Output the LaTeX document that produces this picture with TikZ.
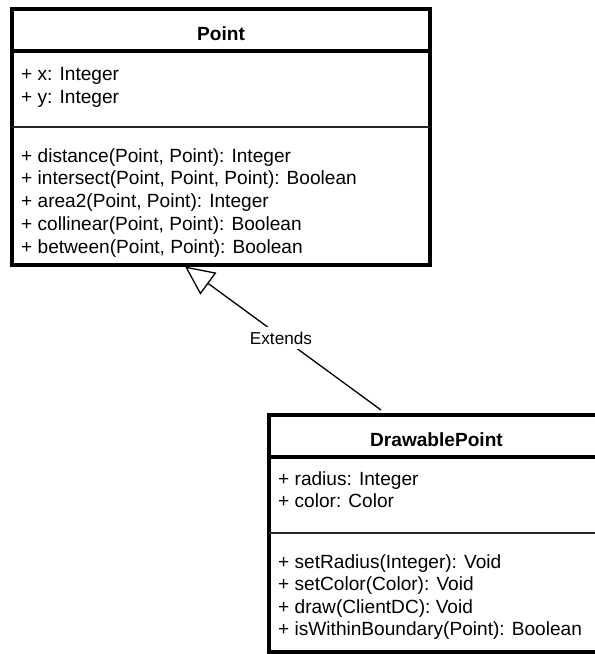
\documentclass[tikz,border=0pt]{standalone}
\usepackage{fontspec}
\setmainfont{Liberation Sans}
\usetikzlibrary{arrows.meta}
\begin{document}
\begin{tikzpicture}[x=1pt,y=-1pt,
  classbox/.style={draw=black, line width=4pt, fill=white, inner sep=0pt, outer sep=0pt},
  headrule/.style={draw=black, line width=4pt},
  partrule/.style={draw=black!85, line width=1.4pt},
  classname/.style={anchor=base, inner sep=0pt, font=\fontsize{19.1}{22.8}\selectfont\bfseries},
  member/.style={anchor=base west, inner sep=0pt, font=\fontsize{19.1}{22.8}\selectfont},
  genlabel/.style={fill=white, inner xsep=2pt, inner ysep=5pt, font=\fontsize{17.2}{20}\selectfont},
  generalization/.style={draw=black, line width=1.3pt,
    -{Triangle[open, length=29pt, width=27pt, fill=white]}}]
  \useasboundingbox (0,0) rectangle (595,654);
  \clip (0,0) rectangle (595,654);

  % class Point
  \node[classbox, minimum width=418pt, minimum height=256pt] (point) at (221,137) {};
  \draw[headrule] (12,50.5) -- (430,50.5);
  \draw[partrule] (12,127) -- (430,127);
  \node[classname] (point-name) at (221,40) {Point};
  \node[member] (point-a1) at (21,80) {+ x: Integer};
  \node[member] (point-a2) at (21,103) {+ y: Integer};
  \node[member] (point-m1) at (21,162) {+ distance(Point, Point): Integer};
  \node[member] (point-m2) at (21,184.8) {+ intersect(Point, Point, Point): Boolean};
  \node[member] (point-m3) at (21,207.6) {+ area2(Point, Point): Integer};
  \node[member] (point-m4) at (21,230.4) {+ collinear(Point, Point): Boolean};
  \node[member] (point-m5) at (21,253.2) {+ between(Point, Point): Boolean};

  % class DrawablePoint
  \node[classbox, minimum width=336pt, minimum height=237.5pt] (dpoint) at (437,533.25) {};
  \draw[headrule] (269,457) -- (605,457);
  \draw[partrule] (269,533) -- (605,533);
  \node[classname] (dpoint-name) at (436.5,446) {DrawablePoint};
  \node[member] (dpoint-a1) at (278,485) {+ radius: Integer};
  \node[member] (dpoint-a2) at (278,507.5) {+ color: Color};
  \node[member] (dpoint-m1) at (278,568) {+ setRadius(Integer): Void};
  \node[member] (dpoint-m2) at (278,590.5) {+ setColor(Color): Void};
  \node[member] (dpoint-m3) at (278,613) {+ draw(ClientDC): Void};
  \node[member] (dpoint-m4) at (278,635.5) {+ isWithinBoundary(Point): Boolean};

  % generalization DrawablePoint -> Point
  \coordinate (gen-head) at (185,266.5);
  \coordinate (gen-tail) at (381,410);
  \draw[generalization] (gen-tail) -- (gen-head);
  \node[genlabel] (gen-label) at (281,338) {Extends};
\end{tikzpicture}
\end{document}
